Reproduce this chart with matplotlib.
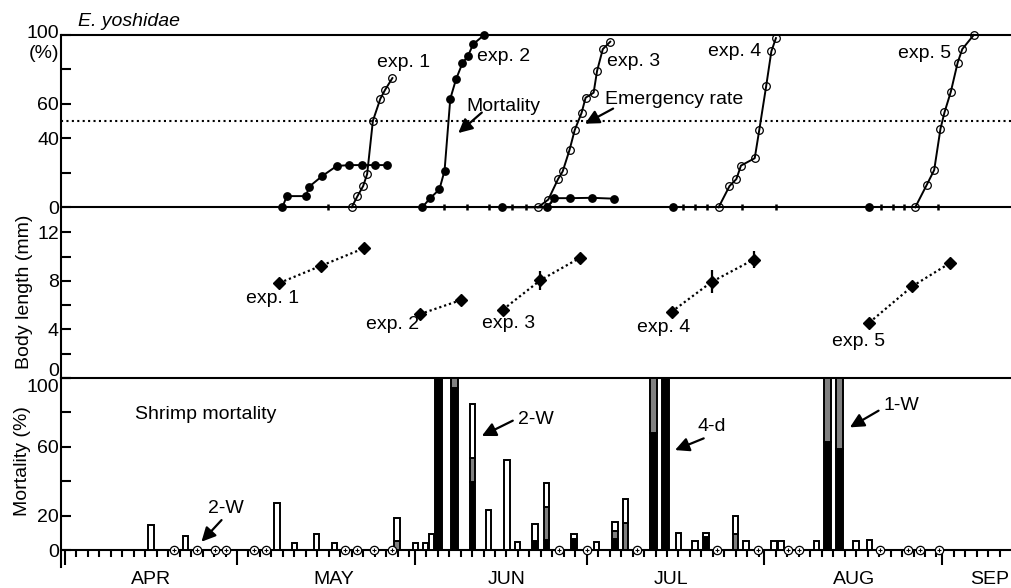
import numpy as np
import matplotlib
matplotlib.use("Agg")
import matplotlib.pyplot as plt
from matplotlib.transforms import blended_transform_factory

plt.rcParams['font.family'] = ['Liberation Sans', 'DejaVu Sans']
plt.rcParams['font.size'] = 14

# x values are days counted from 1 April
# top panel: mortality (filled) and emergence (open), %
exp1_mort_x = [37.9, 38.7, 42.0, 42.6, 44.8, 47.4, 49.6, 51.8, 54.0, 56.1]
exp1_mort_y = [0, 6.5, 6.5, 12, 18, 24, 24.5, 24.5, 24.5, 24.5]
exp1_emer_x = [50.0, 51.0, 52.0, 52.7, 53.7, 55.0, 55.8, 57.1]
exp1_emer_y = [0, 6.4, 12.3, 19.3, 50.2, 63, 68, 75]
exp2_mort_x = [62.3, 63.7, 65.3, 66.2, 67.2, 68.2, 69.3, 70.3, 71.2, 73.1]
exp2_mort_y = [0, 5.3, 10.4, 21.2, 63, 74.3, 83.5, 88, 94.7, 100]
exp3_mort_x = [76.3, 84.1, 85.3, 88.0, 91.9, 95.8]
exp3_mort_y = [0, 0, 5.3, 5.3, 5.5, 5.0]
exp3_emer_x = [82.5, 84.3, 86.0, 86.8, 88.0, 88.9, 90.1, 90.8, 92.2, 92.8, 93.8, 95.1]
exp3_emer_y = [0, 4.5, 16.4, 20.8, 33.3, 44.8, 54.8, 63.6, 66.5, 79.1, 91.8, 96.1]
exp4_mort_x = [106.0]
exp4_mort_y = [0]
exp4_emer_x = [114.0, 115.9, 117.1, 117.9, 120.3, 121.1, 122.3, 123.2, 124.0]
exp4_emer_y = [0, 12.3, 16.4, 24.2, 28.5, 45, 70.4, 90.5, 98.2]
exp5_mort_x = [140.3]
exp5_mort_y = [0]
exp5_emer_x = [148.3, 150.3, 151.6, 152.7, 153.4, 154.5, 155.7, 156.5, 158.5]
exp5_emer_y = [0, 13, 21.6, 45.6, 55.1, 67, 84, 91.8, 100]
sample_days = [45.9, 66.1, 70.1, 74.0, 78.0, 80.4, 107.8, 109.9, 112.0, 118.1,
               124.0, 142.4, 144.5, 146.4, 152.3]

# middle panel: body length (mm)
len1_x, len1_y, len1_err = [37.4, 44.6, 52.2], [7.83, 9.23, 10.7], [0.3, 0, 0]
len2_x, len2_y, len2_err = [61.9, 69.0], [5.26, 6.41], [0, 0]
len3_x, len3_y, len3_err = [76.4, 82.9, 89.9], [5.64, 8.05, 9.92], [0, 0.8, 0.3]
len4_x, len4_y, len4_err = [105.8, 112.8, 120.1], [5.45, 7.92, 9.75], [0, 0.95, 0.7]
len5_x, len5_y, len5_err = [140.3, 147.8, 154.4], [4.57, 7.56, 9.48], [0, 0, 0]

# bottom panel: shrimp mortality (%), stacked black / gray / white
bar_day = [15, 21, 37, 40, 43.9, 47, 57.9, 61.1, 62.9, 63.9, 65.1, 68, 71.1, 73.9,
           77.1, 78.9, 82, 84, 88.8, 92.7, 95.9, 97.8, 102.7, 104.7, 107, 109.9,
           111.8, 116.9, 118.8, 123.7, 124.9, 131.1, 133, 135.1, 138, 140.3]
bar_black = [0, 0, 0, 0, 0, 0, 0, 0, 0, 0, 100, 94, 39.7, 0, 0, 0, 5.4, 5.8, 6.5, 0,
             6.5, 0, 68, 100, 0, 0, 7.5, 0, 0, 0, 0, 0, 63, 59, 0, 0]
bar_gray = [0, 0, 0, 0, 0, 0, 5.5, 0, 0, 0, 0, 6, 13.6, 0, 0, 0, 0, 19, 0, 0,
            4.5, 15.5, 32, 0, 0, 0, 0, 9.5, 0, 0, 0, 0, 37, 41, 0, 0]
bar_white = [14.5, 8.1, 27.5, 3.9, 9.1, 4.3, 13.3, 4.3, 4.3, 9.1, 0, 0, 31.7, 23.3,
             52.3, 4.8, 9.5, 14, 2.6, 4.8, 5, 14, 0, 0, 9.7, 5.4, 2.2, 10, 5.2, 5.2,
             5.2, 5.2, 0, 0, 5.2, 5.8]
zero_days = [19, 23, 26.2, 28, 33, 35, 48.9, 50.9, 53.9, 57, 86.1, 91, 99.7, 113.8,
             120.9, 126.1, 128.1, 142.2, 147.1, 149.2, 152.4]

month_names = ['APR', 'MAY', 'JUN', 'JUL', 'AUG', 'SEP']
month_start = [0, 30, 61, 91, 122, 153]
month_len = [30, 31, 30, 31, 31, 12]

W, H = 1011, 588
fig = plt.figure(figsize=(W / 100, H / 100), dpi=100)


def rect(top_px, bot_px):
    return [61 / W, 1 - bot_px / H, 950 / W, (bot_px - top_px) / H]


ax1 = fig.add_axes(rect(35, 207.3))
ax2 = fig.add_axes(rect(207.3, 378))
ax3 = fig.add_axes(rect(378, 567))
for ax in (ax1, ax2, ax3):
    ax.set_xlim(-0.7, 165.0)
    ax.patch.set_visible(False)
    for s in ax.spines.values():
        s.set_linewidth(1.5)
    ax.spines['right'].set_visible(False)
    ax.tick_params(axis='y', direction='in', length=7, width=1.5, pad=1.5, labelsize=14)

LW = 1.4
TXT = 14


def arrow(ax, tail, head):
    ax.annotate('', xy=head, xytext=tail,
                arrowprops=dict(arrowstyle='-|>,head_length=0.6,head_width=0.3',
                                lw=1.6, color='k', shrinkA=0, shrinkB=0,
                                mutation_scale=14))


def left_label(ax, y, s):
    ax.annotate(s, xy=(0, y), xycoords=('axes fraction', 'data'), xytext=(-1.5, 0),
                textcoords='offset points', ha='right', va='center', fontsize=TXT,
                annotation_clip=False)


# ---- top panel ----
ax1.set_ylim(0, 100)
ax1.set_xticks([])
ax1.set_yticks([0, 20, 40, 60, 80, 100])
ax1.set_yticklabels(['0', '', '40', '60', '', ''])
left_label(ax1, 101, '100')
left_label(ax1, 89.5, '(%)')
ax1.axhline(50, ls=(0, (1, 1.6)), lw=1.5, color='k')
for mx, my in ((exp1_mort_x, exp1_mort_y), (exp2_mort_x, exp2_mort_y),
               (exp3_mort_x, exp3_mort_y), (exp4_mort_x, exp4_mort_y),
               (exp5_mort_x, exp5_mort_y)):
    ax1.plot(mx, my, '-o', color='k', lw=LW, ms=5.3, clip_on=False, zorder=4)
for ex, ey in ((exp1_emer_x, exp1_emer_y), (exp3_emer_x, exp3_emer_y),
               (exp4_emer_x, exp4_emer_y), (exp5_emer_x, exp5_emer_y)):
    ax1.plot(ex, ey, '-o', color='k', lw=LW, ms=5.5, mfc='none', mew=0.9,
             clip_on=False, zorder=4)
ax1.plot(sample_days, np.zeros(len(sample_days)), '|', color='k', ms=4, mew=1.8,
         clip_on=False, zorder=4)

ax1.text(54.4, 84.2, 'exp. 1', va='center', fontsize=TXT)
ax1.text(71.9, 87.7, 'exp. 2', va='center', fontsize=TXT)
ax1.text(94.6, 84.8, 'exp. 3', va='center', fontsize=TXT)
ax1.text(112.2, 90.6, 'exp. 4', va='center', fontsize=TXT)
ax1.text(145.3, 89.5, 'exp. 5', va='center', fontsize=TXT)
ax1.text(70.0, 58.5, 'Mortality', va='center', fontsize=TXT)
ax1.text(94.2, 62.6, 'Emergency rate', va='center', fontsize=TXT)
arrow(ax1, (72.7, 55.0), (68.6, 43.1))
arrow(ax1, (95.6, 57.3), (90.7, 48.5))
fig.text(78 / W, 1 - 22 / H, 'E. yoshidae', style='italic', va='center', fontsize=TXT)

# ---- middle panel ----
ax2.set_ylim(0, 14.06)
ax2.set_xticks([])
ax2.spines['top'].set_visible(False)
ax2.spines['bottom'].set_visible(False)
ax2.set_yticks([0, 2, 4, 6, 8, 10, 12])
ax2.set_yticklabels(['', '', '4', '', '8', '', '12'])
left_label(ax2, 0.5, '0')
for lx, ly, le in ((len1_x, len1_y, len1_err), (len2_x, len2_y, len2_err),
                   (len3_x, len3_y, len3_err), (len4_x, len4_y, len4_err),
                   (len5_x, len5_y, len5_err)):
    ax2.plot(lx, ly, ls=(0, (1, 1.3)), lw=1.6, color='k', zorder=3)
    ax2.errorbar(lx, ly, yerr=le, fmt='D', color='k', ms=6, elinewidth=1.6,
                 capsize=0, zorder=4)
ax2.text(31.6, 6.57, 'exp. 1', va='center', fontsize=TXT)
ax2.text(52.5, 4.44, 'exp. 2', va='center', fontsize=TXT)
ax2.text(72.7, 4.52, 'exp. 3', va='center', fontsize=TXT)
ax2.text(99.7, 4.2, 'exp. 4', va='center', fontsize=TXT)
ax2.text(133.8, 2.98, 'exp. 5', va='center', fontsize=TXT)
fig.text(25 / W, 1 - 292 / H, 'Body length (mm)', rotation=90, ha='center',
         va='center', fontsize=TXT)

# ---- bottom panel ----
ax3.set_ylim(-9.88, 100)
ax3.spines['bottom'].set_position(('data', 0))
ax3.set_yticks([0, 20, 40, 60, 80, 100])
ax3.set_yticklabels(['0', '20', '', '60', '', ''])
left_label(ax3, 94.2, '100')
minor = []
for s, n in zip(month_start, month_len):
    minor += list(range(s, s + n, 2))
ax3.set_xticks(month_start)
ax3.set_xticks(minor, minor=True)
ax3.set_xticklabels([])
ax3.tick_params(axis='x', which='major', direction='out', length=10.5, width=1.5)
ax3.tick_params(axis='x', which='minor', direction='out', length=5, width=1.5)

for d, b, g, w in zip(bar_day, bar_black, bar_gray, bar_white):
    width = 1.2 if b + g >= 99 else 0.95
    base = 0
    for val, col in ((b, 'k'), (g, '0.5'), (w, 'white')):
        if val > 0:
            ax3.bar(d, val, width=width, bottom=base, color=col, edgecolor='k',
                    linewidth=1.4, zorder=3)
            base += val
zz = np.zeros(len(zero_days))
ax3.plot(zero_days, zz, 'o', ms=6, mfc='white', mec='k', mew=0.9, clip_on=False, zorder=4)
ax3.plot(zero_days, zz, '+', ms=3.5, color='k', mew=0.8, clip_on=False, zorder=5)

ax3.text(12.2, 78.5, 'Shrimp mortality', va='center', fontsize=TXT)
ax3.text(24.9, 24.4, '2-W', va='center', fontsize=TXT)
arrow(ax3, (27.3, 17.4), (23.8, 4.8))
ax3.text(79.0, 75.6, '2-W', va='center', fontsize=TXT)
arrow(ax3, (78.1, 75.2), (72.7, 66.3))
ax3.text(110.3, 71.7, '4-d', va='center', fontsize=TXT)
arrow(ax3, (111.4, 64.9), (106.4, 58.1))
ax3.text(142.7, 84.3, '1-W', va='center', fontsize=TXT)
arrow(ax3, (141.9, 81.0), (136.9, 71.3))
fig.text(23 / W, 1 - 461 / H, 'Mortality (%)', rotation=90, ha='center',
         va='center', fontsize=TXT)

tr = blended_transform_factory(ax3.transData, fig.transFigure)
for name, xpos in zip(month_names, [15.0, 46.8, 77.1, 105.7, 137.6, 161.2]):
    ax3.text(xpos, 1 - 580 / H, name, transform=tr, ha='center', va='center',
             fontsize=TXT)

fig.savefig('out.png', dpi=100)
